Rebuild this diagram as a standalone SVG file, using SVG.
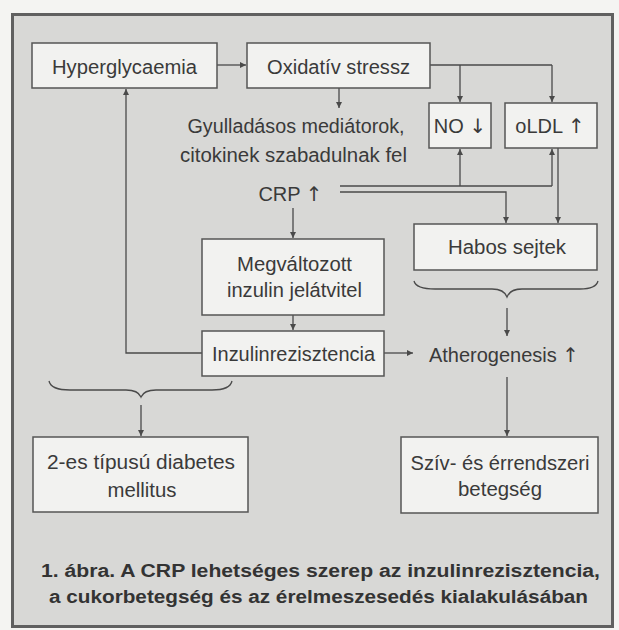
<svg xmlns="http://www.w3.org/2000/svg" width="619" height="630" viewBox="0 0 619 630">
<defs>
<marker id="ah" markerUnits="userSpaceOnUse" markerWidth="7" markerHeight="6" refX="6" refY="3" orient="auto">
<path d="M0,0 L6,3 L0,6 z" fill="#4a4a4a"/>
</marker>
<style>
.box{fill:#f2f2f0;stroke:#555;stroke-width:1.5}
.t{font-family:"Liberation Sans",Arial,sans-serif;font-size:20px;fill:#3a3a3a;text-anchor:middle}
.ar{font-family:"DejaVu Sans","Liberation Sans",sans-serif;font-weight:normal;fill:#3a3a3a}
.cap{font-family:"Liberation Sans",Arial,sans-serif;font-size:18px;font-weight:bold;fill:#333;text-anchor:middle}
.c{fill:none;stroke:#4a4a4a;stroke-width:1.3}
.a{marker-end:url(#ah)}
</style>
</defs>
<rect x="0" y="0" width="619" height="630" fill="#f4f4f2"/>
<rect x="12.5" y="14.5" width="600" height="612" fill="#d8d8d6" stroke="#606060" stroke-width="3"/>

<g id="connectors">
<path class="c a" d="M217,65 H246"/>
<path class="c a" d="M339,88 V108"/>
<path class="c" d="M430,65 H552"/>
<path class="c a" d="M460,65 V102"/>
<path class="c a" d="M552,65 V102"/>
<path class="c" d="M340,186 H552"/>
<path class="c a" d="M460,186 V149"/>
<path class="c a" d="M552,186 V149"/>
<path class="c a" d="M340,192 H506 V223"/>
<path class="c a" d="M558,148 V223"/>
<path class="c a" d="M293,208 V238"/>
<path class="c a" d="M293,315 V330"/>
<path class="c a" d="M202,353 H126 V89"/>
<path class="c a" d="M384,353 H413"/>
<path class="c" d="M414,281 Q416,289 435,289 L492,289 Q504,289 507,297 Q510,289 522,289 L580,289 Q596,289 598,281"/>
<path class="c a" d="M507,308 V336"/>
<path class="c a" d="M507,377 V436"/>
<path class="c" d="M49,381 Q51,390 70,390 L126,390 Q138,390 141,397 Q144,390 156,390 L212,390 Q230,390 232,381"/>
<path class="c a" d="M141,405 V436"/>
</g>

<g id="hyperglycaemia">
<rect class="box" x="32" y="43" width="185" height="45"/>
<text class="t" x="124.5" y="74" textLength="145" lengthAdjust="spacingAndGlyphs">Hyperglycaemia</text>
</g>
<g id="oxidativ-stressz">
<rect class="box" x="247" y="43" width="183" height="45"/>
<text class="t" x="338.5" y="74" textLength="143" lengthAdjust="spacingAndGlyphs">Oxidatív stressz</text>
</g>
<g id="gyulladasos-mediatorok">
<text class="t" x="296" y="133" textLength="217" lengthAdjust="spacingAndGlyphs">Gyulladásos mediátorok,</text>
<text class="t" x="293.5" y="162" textLength="227" lengthAdjust="spacingAndGlyphs">citokinek szabadulnak fel</text>
</g>
<g id="crp">
<text class="t" x="290.5" y="201">CRP <tspan class="ar">↑</tspan></text>
</g>
<g id="no">
<rect class="box" x="429" y="103" width="62" height="45"/>
<text class="t" x="460" y="133">NO <tspan class="ar">↓</tspan></text>
</g>
<g id="oldl">
<rect class="box" x="505" y="103" width="92" height="45"/>
<text class="t" x="550" y="133">oLDL <tspan class="ar">↑</tspan></text>
</g>
<g id="habos-sejtek">
<rect class="box" x="414" y="224" width="183" height="46"/>
<text class="t" x="507" y="254" textLength="118" lengthAdjust="spacingAndGlyphs">Habos sejtek</text>
</g>
<g id="megvaltozott-inzulin-jelatvitel">
<rect class="box" x="202" y="239" width="182" height="76"/>
<text class="t" x="294.5" y="271" textLength="115" lengthAdjust="spacingAndGlyphs">Megváltozott</text>
<text class="t" x="294.5" y="297" textLength="135" lengthAdjust="spacingAndGlyphs">inzulin jelátvitel</text>
</g>
<g id="inzulinrezisztencia">
<rect class="box" x="202" y="331" width="182" height="45"/>
<text class="t" x="293.5" y="361" textLength="163" lengthAdjust="spacingAndGlyphs">Inzulinrezisztencia</text>
</g>
<g id="atherogenesis">
<text class="t" x="504" y="362">Atherogenesis <tspan class="ar">↑</tspan></text>
</g>
<g id="diabetes">
<rect class="box" x="33" y="437" width="215" height="75"/>
<text class="t" x="141" y="469" textLength="188" lengthAdjust="spacingAndGlyphs">2-es típusú diabetes</text>
<text class="t" x="142" y="497" textLength="69" lengthAdjust="spacingAndGlyphs">mellitus</text>
</g>
<g id="sziv-errendszeri">
<rect class="box" x="401" y="437" width="197" height="76"/>
<text class="t" x="500" y="470" textLength="179" lengthAdjust="spacingAndGlyphs">Szív- és érrendszeri</text>
<text class="t" x="500" y="496" textLength="84" lengthAdjust="spacingAndGlyphs">betegség</text>
</g>
<g id="caption">
<text class="cap" x="320.5" y="577" textLength="559" lengthAdjust="spacingAndGlyphs">1. ábra. A CRP lehetséges szerep az inzulinrezisztencia,</text>
<text class="cap" x="318.5" y="603" textLength="539" lengthAdjust="spacingAndGlyphs">a cukorbetegség és az érelmeszesedés kialakulásában</text>
</g>
</svg>
